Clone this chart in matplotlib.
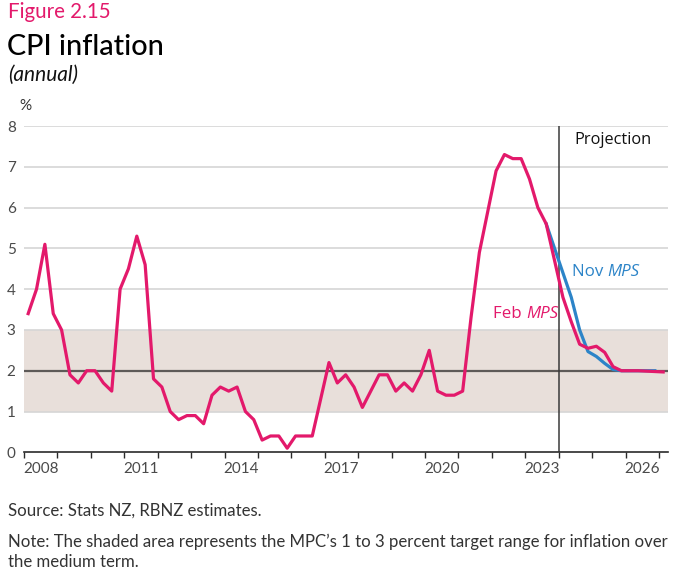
import matplotlib
matplotlib.use("Agg")
import matplotlib.pyplot as plt
import numpy as np

# ---------------- data ----------------
hist_start_year = 2008
hist = [3.4, 4.0, 5.1, 3.4,
        3.0, 1.9, 1.7, 2.0,
        2.0, 1.7, 1.5, 4.0,
        4.5, 5.3, 4.6, 1.8,
        1.6, 1.0, 0.8, 0.9,
        0.9, 0.7, 1.4, 1.6,
        1.5, 1.6, 1.0, 0.8,
        0.3, 0.4, 0.4, 0.1,
        0.4, 0.4, 0.4, 1.3,
        2.2, 1.7, 1.9, 1.6,
        1.1, 1.5, 1.9, 1.9,
        1.5, 1.7, 1.5, 1.9,
        2.5, 1.5, 1.4, 1.4,
        1.5, 3.3, 4.9, 5.9,
        6.9, 7.3, 7.2, 7.2,
        6.7, 6.0, 5.6]
# projections start 2023Q4
feb_mps = [4.7, 3.8, 3.2, 2.65, 2.55, 2.6, 2.45, 2.1, 2.0, 2.0, 2.0, 1.99, 1.98, 1.97]
nov_mps = [5.0, 4.4, 3.8, 3.0, 2.47, 2.35, 2.18, 2.03, 2.0, 2.0, 2.0, 2.0, 2.0]
projection_start = 2024
year_labels = [2008, 2011, 2014, 2017, 2020, 2023, 2026]
y_ticks = [0, 1, 2, 3, 4, 5, 6, 7, 8]
target_low, target_mid, target_high = 1, 2, 3

PINK = "#e3196b"
BLUE = "#2c84c8"

def qpos(start_index, n):
    idx = np.arange(start_index, start_index + n)
    return hist_start_year + (idx + 0.5) / 4.0

n_hist = len(hist)
x_hist = qpos(0, n_hist)
x_feb = qpos(n_hist - 1, len(feb_mps) + 1)
x_nov = qpos(n_hist - 1, len(nov_mps) + 1)
y_nov = [hist[-1]] + nov_mps

# ---------------- figure ----------------
W, H = 682, 584
fig = plt.figure(figsize=(W / 100, H / 100), dpi=100)
ax = fig.add_axes([24 / W, (H - 452.3) / H, (667.7 - 24) / W, (452.3 - 126) / H])

ax.set_xlim(2008.0, 2027.26)
ax.set_ylim(0, 8)

ax.axhspan(target_low, target_high, color="#e8dfda", zorder=0, lw=0)
for v in y_ticks[1:]:
    ax.axhline(v, color="#d6d6d6", lw=1.2, zorder=1)
ax.axhline(target_mid, color="#5e5a58", lw=1.6, zorder=2)
ax.axvline(projection_start, color="#3a3a3a", lw=1.1, zorder=2)

ax.plot(x_nov, y_nov, color=BLUE, lw=2.3, zorder=3, solid_joinstyle="round")
ax.plot(np.concatenate([x_hist, x_feb[1:]]), hist + feb_mps, color=PINK, lw=2.3,
        zorder=4, solid_joinstyle="round")

for s in ["top", "right", "left"]:
    ax.spines[s].set_visible(False)
ax.spines["bottom"].set_color("#2a2a2a")
ax.spines["bottom"].set_linewidth(1.2)

tick_font = dict(family="Lato", size=11, color="#4a4a4a")
ax.set_yticks(y_ticks)
ax.set_yticklabels([str(v) for v in y_ticks], fontdict=tick_font)
ax.tick_params(axis="y", length=0, pad=6)

ax.set_xticks(np.arange(2008, 2028))
ax.set_xticklabels([])
ax.tick_params(axis="x", which="major", length=4, width=1, color="#2a2a2a", direction="out")
ax.set_xticks([y + 0.5 for y in year_labels], minor=True)
ax.set_xticklabels([str(y) for y in year_labels], minor=True, fontdict=tick_font)
ax.tick_params(axis="x", which="minor", length=0, pad=7)

# annotations
ax.text(2024.48, 7.65, "Projection", family="Open Sans", fontsize=11.8, color="#111",
        va="center", ha="left")
t1 = ax.text(2024.4, 4.32, "Nov ", family="Open Sans", fontsize=12.2, color=BLUE,
             va="baseline", ha="left")
ax.annotate("MPS", xy=(1, 0), xycoords=t1, va="bottom", ha="left",
            family="Open Sans", fontsize=12.2, color=BLUE, style="italic")
t2 = ax.text(2022.03, 3.29, "Feb ", family="Open Sans", fontsize=12.2, color=PINK,
             va="baseline", ha="left")
ax.annotate("MPS", xy=(1, 0), xycoords=t2, va="bottom", ha="left",
            family="Open Sans", fontsize=12.2, color=PINK, style="italic")

def fy(px):
    return 1 - px / H

fig.text(8 / W, fy(18), "Figure 2.15", family="Lato", fontsize=14.8, color=PINK, va="baseline")
fig.text(7 / W, fy(55), "CPI inflation", family="Lato", fontsize=20.8, color="#000",
         va="baseline", weight="medium")
fig.text(8 / W, fy(81), "(annual)", family="Lato", fontsize=15, color="#111",
         va="baseline", style="italic")
fig.text(19 / W, fy(110), "%", family="Lato", fontsize=11, color="#333", va="baseline")

note_font = dict(family="Lato", fontsize=12.1, color="#333")
fig.text(8 / W, fy(516), "Source: Stats NZ, RBNZ estimates.", va="baseline", **note_font)
fig.text(8 / W, fy(547), "Note: The shaded area represents the MPC\u2019s 1 to 3 percent target range for inflation over",
         va="baseline", **note_font)
fig.text(8 / W, fy(567), "the medium term.", va="baseline", **note_font)

fig.savefig("out.png", dpi=100)
